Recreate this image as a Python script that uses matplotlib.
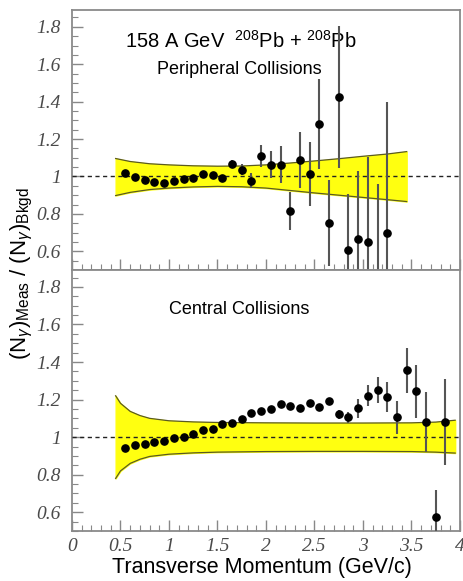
import numpy as np
import matplotlib
matplotlib.use("Agg")
import matplotlib.pyplot as plt
from matplotlib.ticker import MultipleLocator

plt.rcParams['font.family'] = ['Liberation Sans', 'DejaVu Sans']
plt.rcParams['mathtext.fontset'] = 'custom'
plt.rcParams['mathtext.rm'] = 'Liberation Sans'
plt.rcParams['mathtext.it'] = 'Liberation Sans:italic'

# transverse momentum bin centres (GeV/c)
pt_periph = [0.55, 0.65, 0.75, 0.85, 0.95, 1.05, 1.15, 1.25, 1.35, 1.45,
             1.55, 1.65, 1.75, 1.85, 1.95, 2.05, 2.15, 2.25, 2.35, 2.45,
             2.55, 2.65, 2.75, 2.85, 2.95, 3.05, 3.15, 3.25]
ratio_periph = [1.018, 0.995, 0.98, 0.968, 0.966, 0.975, 0.988, 0.991, 1.014, 1.009,
                0.991, 1.068, 1.037, 0.977, 1.108, 1.064, 1.064, 0.815, 1.087, 1.012,
                1.281, 0.751, 1.423, 0.605, 0.668, 0.652, 0.45, 0.696]
err_periph = [0.01, 0.01, 0.01, 0.01, 0.01, 0.01, 0.01, 0.01, 0.012, 0.012,
              0.015, 0.02, 0.03, 0.04, 0.06, 0.07, 0.1, 0.1, 0.15, 0.17,
              0.24, 0.23, 0.38, 0.3, 0.36, 0.45, 0.51, 0.7]

pt_central = [0.55, 0.65, 0.75, 0.85, 0.95, 1.05, 1.15, 1.25, 1.35, 1.45,
              1.55, 1.65, 1.75, 1.85, 1.95, 2.05, 2.15, 2.25, 2.35, 2.45,
              2.55, 2.65, 2.75, 2.85, 2.95, 3.05, 3.15, 3.25, 3.35, 3.45,
              3.55, 3.65, 3.75, 3.85]
ratio_central = [0.941, 0.956, 0.961, 0.975, 0.979, 0.993, 1.002, 1.018, 1.036, 1.044,
                 1.071, 1.073, 1.099, 1.128, 1.138, 1.149, 1.174, 1.167, 1.156, 1.183,
                 1.158, 1.194, 1.121, 1.105, 1.153, 1.22, 1.252, 1.215, 1.105, 1.357,
                 1.243, 1.082, 0.577, 1.082]
err_central = [0.005, 0.005, 0.005, 0.005, 0.005, 0.005, 0.005, 0.005, 0.005, 0.005,
               0.005, 0.005, 0.008, 0.008, 0.008, 0.01, 0.01, 0.01, 0.01, 0.01,
               0.012, 0.015, 0.025, 0.03, 0.05, 0.055, 0.07, 0.08, 0.09, 0.12,
               0.14, 0.16, 0.14, 0.23]

# systematic error bands
band_periph_x = [0.45, 0.6, 0.8, 1.0, 1.25, 1.5, 1.75, 2.0, 2.25, 2.5, 2.75, 3.0, 3.25, 3.45]
band_periph_hi = [1.096, 1.08, 1.068, 1.062, 1.057, 1.055, 1.056, 1.062, 1.072, 1.083,
                  1.095, 1.108, 1.12, 1.133]
band_periph_lo = [0.898, 0.915, 0.93, 0.938, 0.944, 0.947, 0.945, 0.938, 0.925, 0.912,
                  0.9, 0.888, 0.876, 0.866]

band_central_x = [0.45, 0.5, 0.6, 0.7, 0.8, 1.0, 1.25, 1.5, 2.0, 2.5, 3.0, 3.5, 3.75, 3.95]
band_central_hi = [1.22, 1.18, 1.137, 1.115, 1.10, 1.087, 1.081, 1.078, 1.076, 1.075,
                   1.075, 1.076, 1.08, 1.09]
band_central_lo = [0.78, 0.82, 0.86, 0.882, 0.897, 0.909, 0.916, 0.92, 0.923, 0.924,
                   0.924, 0.923, 0.92, 0.915]

xticks = [0, 0.5, 1, 1.5, 2, 2.5, 3, 3.5, 4]
xtick_labels = ['0', '0.5', '1', '1.5', '2', '2.5', '3', '3.5', '4']
yticks = [0.6, 0.8, 1.0, 1.2, 1.4, 1.6, 1.8]
ytick_labels = ['0.6', '0.8', '1', '1.2', '1.4', '1.6', '1.8']

W, H = 464, 581
fig = plt.figure(figsize=(W / 100, H / 100), dpi=100)
ax1 = fig.add_axes([72 / W, 1 - 270 / H, 388 / W, 260 / H])
ax2 = fig.add_axes([72 / W, 1 - 531 / H, 388 / W, 261 / H])

tick_font = dict(family='Liberation Serif', style='italic', size=14, color='#4a4a4a')

panels = [
    (ax1, pt_periph, ratio_periph, err_periph, band_periph_x, band_periph_hi, band_periph_lo),
    (ax2, pt_central, ratio_central, err_central, band_central_x, band_central_hi, band_central_lo),
]
for ax, x, y, e, bx, bhi, blo in panels:
    ax.fill_between(bx, blo, bhi, color='#ffff10', zorder=1)
    ax.plot(bx, bhi, color='#5a5a20', lw=0.9, zorder=2)
    ax.plot(bx, blo, color='#5a5a20', lw=0.9, zorder=2)
    ax.axhline(1.0, color='#222222', lw=1.0, ls=(0, (3, 2.5)), zorder=3)
    ax.errorbar(x, y, yerr=e, fmt='o', color='black', ms=5.2, ecolor='#555555',
                elinewidth=1.5, capsize=0, zorder=4)
    ax.set_xlim(0, 4)
    ax.set_ylim(0.5, 1.89)
    ax.set_yticks(yticks)
    ax.set_yticklabels(ytick_labels, **tick_font)
    ax.yaxis.set_minor_locator(MultipleLocator(0.05))
    ax.xaxis.set_minor_locator(MultipleLocator(0.1))
    ax.set_xticks(xticks)
    ax.tick_params(which='both', direction='in', color='#888888', top=False, right=False)
    ax.tick_params(which='major', length=8, width=1)
    ax.tick_params(which='minor', length=4, width=0.8)
    ax.tick_params(axis='y', pad=8)
    for s in ax.spines.values():
        s.set_color('#8a8a8a')
        s.set_linewidth(1.3)

ax1.set_xticklabels([])
ax2.set_xticklabels(xtick_labels, **tick_font)
ax2.tick_params(axis='x', pad=5)

ax1.text(0.435, 0.88, r"158 A GeV  $^{208}$Pb + $^{208}$Pb", transform=ax1.transAxes,
         ha='center', va='center', fontsize=14.5)
ax1.text(0.43, 0.77, "Peripheral Collisions", transform=ax1.transAxes,
         ha='center', va='center', fontsize=13)
ax2.text(0.43, 0.85, "Central Collisions", transform=ax2.transAxes,
         ha='center', va='center', fontsize=13)

fig.text(262 / W, 1 - 567 / H, "Transverse Momentum (GeV/c)", ha='center', va='center',
         fontsize=15.5)
fig.text(22 / W, 1 - 273 / H, r"(N$_\gamma$)$_{\rm Meas}$ / (N$_\gamma$)$_{\rm Bkgd}$",
         ha='center', va='center', rotation=90, fontsize=16)

fig.savefig('out.png', dpi=100)
